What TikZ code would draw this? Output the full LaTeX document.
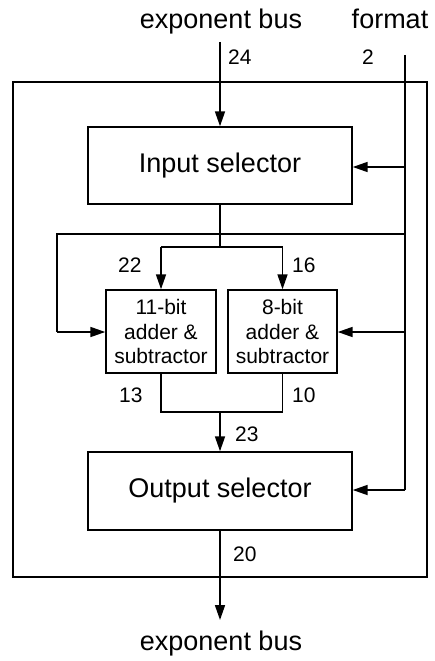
\documentclass[tikz,border=0pt]{standalone}
\usepackage{fontspec}
\setmainfont{Liberation Sans}
\usetikzlibrary{arrows.meta}
\begin{document}
\begin{tikzpicture}[x=1pt,y=-1pt,
  wire/.style={draw, line width=1.7pt},
  sig/.style={wire, -{Triangle[length=15pt,width=10pt]}},
  block/.style={draw, line width=1.4pt, inner sep=0pt,
    font=\fontsize{27}{32}\selectfont},
  unit/.style={draw, line width=1.4pt, inner sep=0pt, align=center,
    minimum width=110pt, minimum height=83pt,
    font=\fontsize{21}{24.5}\selectfont},
  busw/.style={anchor=base west, inner sep=0pt, font=\fontsize{21}{24}\selectfont},
  ext/.style={anchor=base, inner sep=0pt, font=\fontsize{27}{32}\selectfont}]
\useasboundingbox (0,0) rectangle (435,661);

% enclosing unit
\node[draw, line width=1.7pt, inner sep=0pt, minimum width=414pt, minimum height=495pt] (frame) at (220,329.5) {};

% blocks
\node[block, minimum width=264pt, minimum height=77pt] (insel) at (220,165.5) {Input selector};
\node[unit] (add11) at (161,331.5) {11-bit\\adder \&\\subtractor};
\node[unit, minimum width=109pt] (add8) at (282.5,331.5) {8-bit\\adder \&\\subtractor};
\node[block, minimum width=264pt, minimum height=78pt] (outsel) at (220,491) {Output selector};

% external labels
\node[ext] (expin) at (221,29) {exponent bus};
\node[ext] (fmt) at (390,29) {format};
\node[ext] (expout) at (221,650) {exponent bus};

% routing points
\coordinate (ein) at (220,42);
\coordinate (fin) at (405,55);
\coordinate (f1) at (405,167);
\coordinate (f2) at (405,234);
\coordinate (f3) at (405,332);
\coordinate (f4) at (405,490);
\coordinate (l2) at (57,234);
\coordinate (l3) at (57,332);
\coordinate (split) at (220,247);
\coordinate (sl) at (161,247);
\coordinate (sr) at (282.5,247);
\coordinate (ml) at (161,412);
\coordinate (mr) at (282.5,412);
\coordinate (merge) at (220,412);
\coordinate (eout) at (220,620);

% exponent path
\draw[sig] (ein) -- (insel.north);
\draw[wire] (insel.south) -- (split);
\draw[wire] (sl) -- (sr);
\draw[sig] (sl) -- (add11.north);
\draw[sig] (sr) -- (add8.north);
\draw[wire] (add11.south) -- (ml) -- (mr) -- (add8.south);
\draw[sig] (merge) -- (outsel.north);
\draw[sig] (outsel.south) -- (eout);

% format control
\draw[wire] (fin) -- (f4);
\draw[sig] (f1) -- (insel.east |- f1);
\draw[wire] (f2) -- (l2) -- (l3);
\draw[sig] (l3) -- (add11.west |- l3);
\draw[sig] (f3) -- (add8.east |- f3);
\draw[sig] (f4) -- (outsel.east |- f4);

% bus widths
\node[busw] (w24) at (228,65) {24};
\node[busw] (w2) at (362,65) {2};
\node[busw] (w22) at (118,272.5) {22};
\node[busw] (w16) at (292,272.5) {16};
\node[busw] (w13) at (119,402.5) {13};
\node[busw] (w10) at (292,402.5) {10};
\node[busw] (w23) at (235,441.5) {23};
\node[busw] (w20) at (233,561.5) {20};
\end{tikzpicture}
\end{document}
